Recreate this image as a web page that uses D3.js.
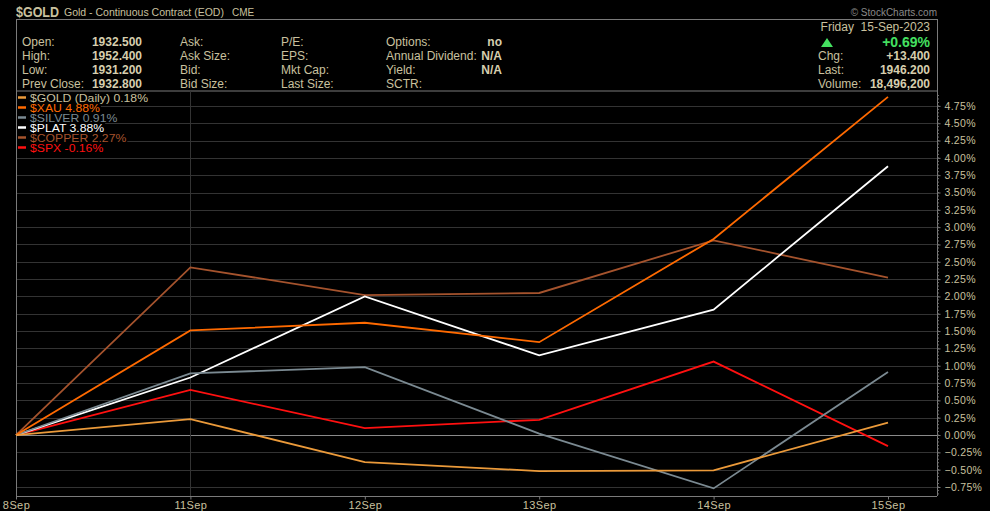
<!DOCTYPE html>
<html>
<head>
<meta charset="utf-8">
<script src="https://cdn.jsdelivr.net/npm/d3@7"></script>
<style>
  body { margin: 0; background: #000; }
  svg { display: block; }
  text { font-family: "Liberation Sans", Arial, sans-serif; }
</style>
</head>
<body>
<svg id="viz" width="990" height="511"></svg>
<script>
// data (% change since 8 Sep)
var dates = ["8Sep", "11Sep", "12Sep", "13Sep", "14Sep", "15Sep"];
var gold   = [0, 0.23, -0.39, -0.52, -0.51, 0.18];
var xau    = [0, 1.51, 1.62, 1.34, 2.83, 4.88];
var silver = [0, 0.89, 0.98, 0.02, -0.77, 0.91];
var plat   = [0, 0.83, 2.00, 1.15, 1.81, 3.88];
var copper = [0, 2.42, 2.02, 2.05, 2.81, 2.27];
var spx    = [0, 0.65, 0.10, 0.22, 1.06, -0.16];
var yTicks = [-0.75, -0.5, -0.25, 0, 0.25, 0.5, 0.75, 1, 1.25, 1.5, 1.75, 2, 2.25, 2.5, 2.75, 3, 3.25, 3.5, 3.75, 4, 4.25, 4.5, 4.75];

var series = [
  { name: "$GOLD (Daily) 0.18%", values: gold, color: "#eb9a3a", text: "#c9c19f" },
  { name: "$XAU 4.88%", values: xau, color: "#ff6a00", text: "#ff6a00" },
  { name: "$SILVER 0.91%", values: silver, color: "#7b8a92", text: "#7b8a92" },
  { name: "$PLAT 3.88%", values: plat, color: "#ffffff", text: "#ffffff" },
  { name: "$COPPER 2.27%", values: copper, color: "#a5532d", text: "#a5532d" },
  { name: "$SPX -0.16%", values: spx, color: "#ff1010", text: "#ff1010" }
];

var beige = "#c9c19f", beigeBold = "#d6ceae";
var svg = d3.select("#viz");
var pl = 16, pr = 937, pt = 91, pb = 496;

var x = d3.scalePoint().domain(dates).range([pl, 888]);
var y = d3.scaleLinear().domain([-0.88, 4.965]).range([pb, pt]);

// title line
svg.append("text").attr("x", 16).attr("y", 17)
  .attr("font-size", 14).attr("font-weight", "bold").attr("fill", beige)
  .attr("textLength", 43).attr("lengthAdjust", "spacingAndGlyphs").text("$GOLD");
svg.append("text").attr("x", 64).attr("y", 16)
  .attr("font-size", 10.5).attr("fill", beige).text("Gold - Continuous Contract (EOD)");
svg.append("text").attr("x", 232).attr("y", 16)
  .attr("font-size", 10).attr("fill", beige).text("CME");
svg.append("text").attr("x", 937).attr("y", 16).attr("text-anchor", "end")
  .attr("font-size", 10).attr("fill", "#8a8a8a").text("\u00a9 StockCharts.com");

// header box
svg.append("rect").attr("x", pl + 0.5).attr("y", 19.5).attr("width", pr - pl).attr("height", pt - 19.5)
  .attr("fill", "#000").attr("stroke", "#7a7a7a");

var rows = [46, 60, 74, 88];
var hdr = [
  ["Open:", "1932.500", "Ask:", "P/E:", "Options:", "no"],
  ["High:", "1952.400", "Ask Size:", "EPS:", "Annual Dividend:", "N/A"],
  ["Low:", "1931.200", "Bid:", "Mkt Cap:", "Yield:", "N/A"],
  ["Prev Close:", "1932.800", "Bid Size:", "Last Size:", "SCTR:", ""]
];
hdr.forEach(function (r, i) {
  var g = svg.append("g").attr("font-size", 12).attr("fill", beige);
  g.append("text").attr("x", 22).attr("y", rows[i]).text(r[0]);
  g.append("text").attr("x", 142).attr("y", rows[i]).attr("text-anchor", "end")
    .attr("font-weight", "bold").attr("fill", beigeBold).text(r[1]);
  g.append("text").attr("x", 180).attr("y", rows[i]).text(r[2]);
  g.append("text").attr("x", 281).attr("y", rows[i]).text(r[3]);
  g.append("text").attr("x", 386).attr("y", rows[i]).text(r[4]);
  g.append("text").attr("x", 502).attr("y", rows[i]).attr("text-anchor", "end")
    .attr("font-weight", "bold").attr("fill", beigeBold).text(r[5]);
});

// right block of header
svg.append("text").attr("x", 930).attr("y", 31).attr("text-anchor", "end")
  .attr("font-size", 12).attr("fill", beige).attr("xml:space", "preserve").text("Friday  15-Sep-2023");
svg.append("path").attr("d", "M821,47 L827,38 L833,47 Z").attr("fill", "#44e060");
svg.append("text").attr("x", 930).attr("y", 47).attr("text-anchor", "end")
  .attr("font-size", 14).attr("font-weight", "bold").attr("fill", "#44e060").text("+0.69%");
[["Chg:", "+13.400"], ["Last:", "1946.200"], ["Volume:", "18,496,200"]].forEach(function (r, i) {
  var yy = 60 + i * 14;
  svg.append("text").attr("x", 818).attr("y", yy).attr("font-size", 12).attr("fill", beige).text(r[0]);
  svg.append("text").attr("x", 930).attr("y", yy).attr("text-anchor", "end")
    .attr("font-size", 12).attr("font-weight", "bold").attr("fill", beigeBold).text(r[1]);
});

// grid
var grid = svg.append("g");
grid.selectAll(".hg").data(yTicks).enter().append("line")
  .attr("x1", pl).attr("x2", pr)
  .attr("y1", function (d) { return Math.round(y(d)) + 0.5; })
  .attr("y2", function (d) { return Math.round(y(d)) + 0.5; })
  .attr("stroke", function (d) { return d === 0 ? "#8a8a8a" : "#333"; });
grid.append("line")
  .attr("x1", Math.round(x("11Sep")) + 0.5).attr("x2", Math.round(x("11Sep")) + 0.5)
  .attr("y1", pt).attr("y2", pb).attr("stroke", "#333");

// plot frame
svg.append("line").attr("x1", pl + 0.5).attr("x2", pl + 0.5).attr("y1", pt).attr("y2", pb).attr("stroke", "#7a7a7a");
svg.append("line").attr("x1", pr + 0.5).attr("x2", pr + 0.5).attr("y1", pt).attr("y2", pb).attr("stroke", "#7a7a7a");
svg.append("line").attr("x1", pl).attr("x2", pr).attr("y1", pb + 0.5).attr("y2", pb + 0.5).attr("stroke", "#7a7a7a");

// lines, drawn back to front
var line = d3.line()
  .x(function (d, i) { return x(dates[i]); })
  .y(function (d) { return y(d); });
svg.append("g").selectAll("path").data(series.slice().reverse()).enter().append("path")
  .attr("d", function (d) { return line(d.values); })
  .attr("fill", "none")
  .attr("stroke", function (d) { return d.color; })
  .attr("stroke-width", 1.8);

// right y axis
var yAxis = d3.axisRight(y).tickValues(yTicks).tickSize(3).tickPadding(4)
  .tickFormat(function (d) { return d3.format(".2f")(d) + "%"; });
var ya = svg.append("g").attr("transform", "translate(" + (pr + 0.5) + ",0)").call(yAxis);
ya.select(".domain").remove();
ya.selectAll("line").attr("stroke", "#7a7a7a");
ya.selectAll("text").attr("fill", beige).attr("font-size", 10.5)
  .attr("font-family", "\"Liberation Sans\", Arial, sans-serif").attr("letter-spacing", 0.3);
// minor ticks
var minor = d3.range(-0.85, 4.95, 0.05);
ya.selectAll(".minor").data(minor).enter().append("line")
  .attr("x1", 0).attr("x2", 1.5)
  .attr("y1", function (d) { return y(d); }).attr("y2", function (d) { return y(d); })
  .attr("stroke", "#6a6a6a");

// bottom x axis
var xAxis = d3.axisBottom(x).tickSize(3).tickPadding(2);
var xa = svg.append("g").attr("transform", "translate(0," + (pb + 0.5) + ")").call(xAxis);
xa.select(".domain").remove();
xa.selectAll("line").attr("stroke", "#7a7a7a");
xa.selectAll("text").attr("fill", beige).attr("font-size", 11)
  .attr("font-family", "\"Liberation Sans\", Arial, sans-serif").attr("letter-spacing", 0.4);

// legend
var lg = svg.append("g").attr("font-size", 10).attr("font-family", "\"DejaVu Sans\", sans-serif");
series.forEach(function (s, i) {
  var yy = 97.5 + i * 10;
  var t = lg.append("text").attr("x", 30).attr("y", yy + 4).attr("fill", s.text).text(s.name);
  var w = t.node().getComputedTextLength() * 1.22;
  t.attr("textLength", w).attr("lengthAdjust", "spacingAndGlyphs");
  lg.insert("rect", "text").attr("x", 17).attr("y", yy - 5).attr("width", w + 14).attr("height", 10).attr("fill", "#000");
  lg.append("line").attr("x1", 18).attr("x2", 26).attr("y1", yy).attr("y2", yy)
    .attr("stroke", s.color).attr("stroke-width", 2.5);
});
</script>
</body>
</html>
